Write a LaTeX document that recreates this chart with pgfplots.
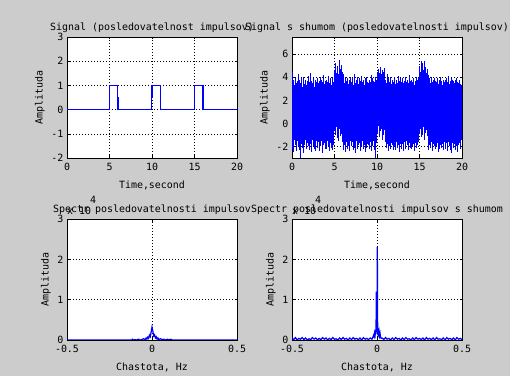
\documentclass[border=0pt]{standalone}
\usepackage{pgfplots}
\usepackage{pgfplotstable}
\pgfplotsset{compat=1.18}
\usepackage{fontspec}
\setmainfont{DejaVu Sans Mono}
\definecolor{mgray}{RGB}{204,204,204}
\definecolor{mblue}{RGB}{0,0,255}
\newcommand\mf{\fontsize{10}{12}\selectfont}
\pgfplotsset{mstyle/.style={
  scale only axis, width=170bp, height=121bp,
  axis background/.style={fill=white},
  axis line style={black, line width=0.6bp},
  tick align=inside, major tick length=2.5bp,
  tick style={black, line width=0.5bp},
  tick pos=both,
  grid=major,
  major grid style={black, line width=0.5bp, dash pattern=on 0.7bp off 2.3bp},
  font=\mf, ticklabel style={font=\mf},
  xticklabel style={yshift=-1.5bp},
  label style={font=\mf}, title style={font=\mf, yshift=-5bp},
  xlabel style={yshift=-4bp},
  scaled ticks=false,
}}
\pgfplotstableread{
x h l
0.0 4.5 -2.2
0.1 3.6 -1.6
0.2 3.8 -2.5
0.3 3.3 -1.4
0.4 3.9 -1.9
0.5 3.5 -2.4
0.6 3.7 -1.5
0.7 4.3 -2.0
0.8 3.4 -1.7
0.9 3.8 -2.3
1.0 3.5 -3.0
1.1 3.9 -1.8
1.2 3.2 -2.1
1.3 4.0 -1.5
1.4 3.6 -2.6
1.5 3.4 -1.9
1.6 3.8 -1.4
1.7 3.3 -2.2
1.8 3.7 -1.7
1.9 4.1 -2.0
2.0 3.6 -1.6
2.1 3.3 -2.3
2.2 4.4 -1.8
2.3 3.7 -2.5
2.4 3.5 -1.4
2.5 3.9 -2.0
2.6 3.2 -2.2
2.7 3.8 -1.7
2.8 3.4 -2.4
2.9 3.6 -1.5
3.0 3.9 -2.1
3.1 3.5 -1.6
3.2 3.7 -2.4
3.3 4.0 -1.8
3.4 3.3 -2.0
3.5 3.8 -1.5
3.6 3.6 -2.6
3.7 4.2 -1.9
3.8 3.4 -1.7
3.9 3.7 -2.2
4.0 3.4 -1.8
4.1 3.8 -2.2
4.2 3.6 -1.5
4.3 4.1 -2.0
4.4 3.5 -2.4
4.5 3.9 -1.7
4.6 3.3 -2.1
4.7 3.7 -1.6
4.8 4.0 -2.3
4.9 3.6 -1.9
5.0 4.6 -0.6
5.1 5.2 -1.0
5.2 4.4 -0.3
5.3 4.9 -1.3
5.4 5.0 -0.8
5.5 4.3 -1.5
5.6 5.5 -0.5
5.7 4.7 -1.1
5.8 5.1 -0.9
5.9 4.5 -1.6
6.0 3.8 -1.7
6.1 4.3 -2.3
6.2 3.5 -1.9
6.3 4.0 -2.5
6.4 3.7 -1.6
6.5 3.9 -2.2
6.6 3.4 -2.0
6.7 3.8 -1.8
6.8 3.6 -2.4
6.9 4.0 -1.5
7.0 3.6 -2.0
7.1 3.9 -1.6
7.2 3.3 -2.3
7.3 4.3 -1.8
7.4 3.7 -2.1
7.5 3.5 -2.6
7.6 3.8 -1.5
7.7 4.0 -2.2
7.8 3.4 -1.9
7.9 3.9 -1.7
8.0 3.7 -2.4
8.1 3.4 -1.7
8.2 4.1 -2.0
8.3 3.6 -1.5
8.4 3.8 -2.2
8.5 3.3 -1.9
8.6 3.9 -2.5
8.7 3.5 -1.6
8.8 4.0 -2.1
8.9 3.6 -1.8
9.0 3.5 -1.9
9.1 3.8 -2.2
9.2 3.6 -1.6
9.3 4.2 -2.4
9.4 3.4 -1.8
9.5 3.9 -2.0
9.6 3.7 -1.5
9.7 3.6 -2.3
9.8 4.0 -3.0
9.9 3.8 -1.7
10.0 4.5 -0.4
10.1 4.2 -0.9
10.2 4.7 -0.2
10.3 4.4 -1.2
10.4 4.9 -0.7
10.5 4.3 -0.5
10.6 4.6 -1.4
10.7 4.1 -0.8
10.8 4.5 -1.0
10.9 4.8 -0.6
11.0 3.8 -1.6
11.1 3.5 -2.1
11.2 4.3 -1.8
11.3 3.7 -2.4
11.4 3.9 -1.5
11.5 3.6 -2.0
11.6 4.0 -2.2
11.7 3.4 -1.7
11.8 3.8 -1.9
11.9 3.6 -2.3
12.0 3.6 -2.0
12.1 4.0 -1.7
12.2 3.4 -2.3
12.3 3.8 -1.6
12.4 3.5 -2.1
12.5 4.1 -1.9
12.6 3.7 -2.5
12.7 3.3 -1.8
12.8 3.9 -1.5
12.9 3.6 -2.2
13.0 3.9 -1.8
13.1 3.5 -2.4
13.2 3.7 -1.6
13.3 3.4 -2.0
13.4 4.0 -2.2
13.5 3.6 -1.5
13.6 3.8 -1.9
13.7 3.5 -2.3
13.8 4.2 -1.7
13.9 3.7 -2.1
14.0 3.5 -2.2
14.1 3.8 -1.6
14.2 3.6 -2.0
14.3 3.9 -1.8
14.4 3.3 -2.4
14.5 3.7 -1.7
14.6 4.0 -2.1
14.7 3.6 -1.5
14.8 3.8 -1.9
14.9 3.9 -1.6
15.0 5.0 -0.9
15.1 4.5 -0.5
15.2 5.4 -1.2
15.3 4.8 -0.7
15.4 5.2 -1.0
15.5 4.6 -0.3
15.6 5.4 -1.4
15.7 4.9 -0.8
15.8 4.4 -0.6
15.9 4.7 -1.1
16.0 4.2 -1.7
16.1 3.7 -2.3
16.2 3.9 -1.9
16.3 3.5 -2.1
16.4 4.0 -1.6
16.5 3.6 -2.4
16.6 3.8 -1.8
16.7 3.4 -2.0
16.8 3.9 -1.5
16.9 3.7 -2.2
17.0 3.6 -2.0
17.1 3.9 -1.7
17.2 3.4 -2.5
17.3 3.8 -1.6
17.4 3.5 -2.2
17.5 4.0 -1.9
17.6 3.7 -2.1
17.7 3.3 -1.8
17.8 3.8 -2.3
17.9 3.6 -1.6
18.0 3.8 -1.9
18.1 3.5 -2.2
18.2 3.9 -1.7
18.3 3.6 -2.4
18.4 4.1 -1.6
18.5 3.4 -2.0
18.6 3.7 -2.3
18.7 3.9 -1.8
18.8 3.5 -2.6
18.9 3.8 -1.7
19.0 3.7 -2.1
19.1 3.5 -1.8
19.2 3.8 -2.3
19.3 3.4 -1.6
19.4 3.9 -2.0
19.5 3.6 -2.5
19.6 3.5 -1.9
19.7 3.8 -1.7
19.8 3.4 -2.2
19.9 3.3 -1.4
20.0 3.2 -1.8
}\noisetab
\begin{document}
\begin{tikzpicture}
\fill[mgray] (0,0) rectangle (510bp,376bp);
% top-left
\begin{axis}[mstyle, name=tl, at={(67bp,218bp)}, anchor=south west,
  xmin=0, xmax=20, ymin=-2, ymax=3,
  xtick={0,5,10,15,20}, xticklabels={0,5,10,15,20},
  ytick={-2,-1,0,1,2,3}, yticklabels={-2,-1,0,1,2,3},
  title={Signal (posledovatelnost impulsov)},
  xlabel={Time,second}, ylabel={Amplituda}]
\addplot[mblue, line width=1.1bp] coordinates {
(0,0)(5,0)(5,1)(5.9,1)(5.9,0.5)(6.0,0.5)(6.0,0)(9.9,0)(9.9,0.5)(10.0,0.5)(10.0,1)(11,1)(11,0)(15,0)(15,1)(16,1)(16,0)(20,0)};
\end{axis}
% top-right
\begin{axis}[mstyle, name=tr, at={(292bp,218bp)}, anchor=south west,
  xmin=0, xmax=20, ymin=-3, ymax=7.5,
  xtick={0,5,10,15,20}, xticklabels={0,5,10,15,20},
  ytick={-2,0,2,4,6}, yticklabels={-2,0,2,4,6},
  title={Signal s shumom (posledovatelnosti impulsov)},
  xlabel={Time,second}, ylabel={Amplituda}]
\addplot[mblue, line width=0.9bp, ycomb, mark=none] table[x=x, y=h] {\noisetab};
\addplot[mblue, line width=0.9bp, ycomb, mark=none] table[x=x, y=l] {\noisetab};
\end{axis}
% bottom-left
\begin{axis}[mstyle, name=bl, at={(67bp,36bp)}, anchor=south west,
  xmin=-0.5, xmax=0.5, ymin=0, ymax=3,
  xtick={-0.5,0,0.5}, xticklabels={-0.5,0,0.5},
  ytick={0,1,2,3}, yticklabels={0,1,2,3},
  title={Spectr posledovatelnosti impulsov},
  xlabel={Chastota, Hz}, ylabel={Amplituda}]
\addplot[mblue, line width=1.2bp] coordinates {
(-0.5,0)(-0.12,0)(-0.115,0.02)(-0.11,0)(-0.1,0.01)(-0.09,0)(-0.08,0.02)(-0.07,0)(-0.06,0.01)(-0.05,0.03)(-0.04,0.01)(-0.035,0.05)(-0.03,0.02)(-0.025,0.07)(-0.02,0.04)(-0.015,0.12)(-0.01,0.08)(-0.005,0.2)(0,0.32)(0.005,0.22)(0.01,0.1)(0.015,0.13)(0.02,0.05)(0.025,0.08)(0.03,0.02)(0.035,0.05)(0.04,0.01)(0.05,0.03)(0.06,0.01)(0.07,0.02)(0.08,0)(0.09,0.02)(0.1,0)(0.11,0.02)(0.12,0)(0.5,0)};
\end{axis}
% bottom-right
\begin{axis}[mstyle, name=br, at={(292bp,36bp)}, anchor=south west,
  xmin=-0.5, xmax=0.5, ymin=0, ymax=3,
  xtick={-0.5,0,0.5}, xticklabels={-0.5,0,0.5},
  ytick={0,1,2,3}, yticklabels={0,1,2,3},
  title={Spectr posledovatelnosti impulsov s shumom},
  xlabel={Chastota, Hz}, ylabel={Amplituda}]
\addplot[mblue, line width=1.2bp] coordinates {
(-0.50,0.05)(-0.49,0.01)(-0.48,0.06)(-0.47,0.00)(-0.46,0.04)(-0.45,0.02)(-0.44,0.06)(-0.43,0.01)(-0.42,0.05)(-0.41,0.00)
(-0.40,0.03)(-0.39,0.01)(-0.38,0.06)(-0.37,0.02)(-0.36,0.05)(-0.35,0.00)(-0.34,0.04)(-0.33,0.01)(-0.32,0.06)(-0.31,0.02)
(-0.30,0.05)(-0.29,0.00)(-0.28,0.04)(-0.27,0.01)(-0.26,0.06)(-0.25,0.02)(-0.24,0.03)(-0.23,0.00)(-0.22,0.05)(-0.21,0.01)
(-0.20,0.06)(-0.19,0.02)(-0.18,0.04)(-0.17,0.00)(-0.16,0.05)(-0.15,0.01)(-0.14,0.06)(-0.13,0.02)(-0.12,0.04)(-0.11,0.01)
(-0.10,0.05)(-0.09,0.00)(-0.08,0.06)(-0.07,0.02)(-0.06,0.04)(-0.05,0.01)(-0.04,0.05)(-0.03,0.02)
(-0.025,0.06)(-0.02,0.12)(-0.017,0.08)(-0.014,0.18)(-0.011,0.12)(-0.008,0.25)(-0.006,0.15)(-0.004,1.2)(-0.002,0.2)(0.0,0.28)(0.002,2.3)(0.004,0.22)(0.006,0.26)(0.009,0.15)(0.012,0.22)(0.015,0.1)(0.018,0.16)(0.021,0.06)(0.025,0.04)
(0.03,0.05)(0.04,0.01)(0.05,0.06)(0.06,0.02)(0.07,0.04)(0.08,0.00)(0.09,0.05)(0.10,0.01)
(0.11,0.06)(0.12,0.02)(0.13,0.04)(0.14,0.00)(0.15,0.05)(0.16,0.01)(0.17,0.06)(0.18,0.02)(0.19,0.03)(0.20,0.00)
(0.21,0.05)(0.22,0.01)(0.23,0.06)(0.24,0.02)(0.25,0.04)(0.26,0.01)(0.27,0.05)(0.28,0.00)(0.29,0.06)(0.30,0.02)
(0.31,0.04)(0.32,0.01)(0.33,0.05)(0.34,0.00)(0.35,0.06)(0.36,0.02)(0.37,0.03)(0.38,0.01)(0.39,0.05)(0.40,0.00)
(0.41,0.06)(0.42,0.02)(0.43,0.04)(0.44,0.01)(0.45,0.05)(0.46,0.00)(0.47,0.06)(0.48,0.02)(0.49,0.04)(0.50,0.01)};
\end{axis}
\node[anchor=base west, inner sep=0, font=\mf] at ([shift={(0bp,5bp)}]bl.north west) {x 10};
\node[anchor=base west, inner sep=0, font=\mf] at ([shift={(23bp,15.5bp)}]bl.north west) {4};
\node[anchor=base west, inner sep=0, font=\mf] at ([shift={(0bp,5bp)}]br.north west) {x 10};
\node[anchor=base west, inner sep=0, font=\mf] at ([shift={(23bp,15.5bp)}]br.north west) {4};
\pgfresetboundingbox
\path[use as bounding box] (0,0) rectangle (510bp,376bp);
\end{tikzpicture}
\end{document}
